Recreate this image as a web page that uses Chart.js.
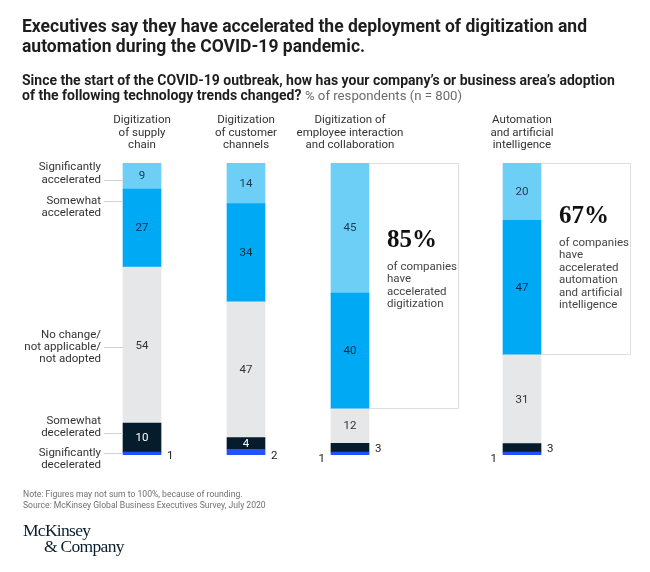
<!DOCTYPE html>
<html><head><meta charset="utf-8">
<script src="https://cdn.jsdelivr.net/npm/chart.js@4.4.1/dist/chart.umd.min.js"></script>
<style>
html,body{margin:0;padding:0;background:#fff;}
#wrap{position:relative;width:650px;height:572px;overflow:hidden;font-family:Roboto,'Liberation Sans',sans-serif;}
canvas{position:absolute;left:0;top:0;}
.title{position:absolute;left:22px;top:16px;font-size:17.5px;line-height:20px;font-weight:700;color:#1e1e1e;white-space:nowrap;}
.sub{position:absolute;left:22px;top:73px;font-size:14px;line-height:14.5px;color:#1e1e1e;white-space:nowrap;}
.sub b{font-weight:700;}
.sub span{color:#6b6b6b;font-weight:400;font-size:13.2px;}
.note{position:absolute;left:23px;top:489px;font-size:8.6px;line-height:10.5px;color:#707070;white-space:nowrap;}
.logo{position:absolute;left:23px;top:522px;font-family:'Liberation Serif',serif;font-size:17.5px;line-height:16px;color:#0a1e2e;letter-spacing:-0.7px;white-space:nowrap;}
.logo span{padding-left:21px;}
</style></head>
<body><div id="wrap">
<canvas id="c" width="650" height="572"></canvas>
<div class="title">Executives say they have accelerated the deployment of digitization and<br>automation during the COVID-19 pandemic.</div>
<div class="sub"><b>Since the start of the COVID-19 outbreak, how has your company’s or business area’s adoption<br>of the following technology trends changed?</b> <span>% of respondents (n = 800)</span></div>
<div class="note">Note: Figures may not sum to 100%, because of rounding.<br>Source: McKinsey Global Business Executives Survey, July 2020</div>
<div class="logo">McKinsey<br><span>&amp; Company</span></div>
</div>
<script>
// ---- data ----
const categories = ['Digitization of supply chain','Digitization of customer channels','Digitization of employee interaction and collaboration','Automation and artificial intelligence'];
const headerLines = [['Digitization','of supply','chain'],['Digitization','of customer','channels'],['Digitization of','employee interaction','and collaboration'],['Automation','and artificial','intelligence']];
const seriesNames = ['Significantly decelerated','Somewhat decelerated','No change/not applicable/not adopted','Somewhat accelerated','Significantly accelerated'];
const seriesLabelLines = [['Significantly','decelerated'],['Somewhat','decelerated'],['No change/','not applicable/','not adopted'],['Somewhat','accelerated'],['Significantly','accelerated']];
const sigDecel  = [1, 2, 1, 1];
const someDecel = [10, 4, 3, 3];
const noChange  = [54, 47, 12, 31];
const someAccel = [27, 34, 40, 47];
const sigAccel  = [9, 14, 45, 20];
const calloutValues = ['', '', '85%', '67%'];
const calloutLines = [[], [], ['of companies','have','accelerated','digitization'], ['of companies','have','accelerated','automation','and artificial','intelligence']];

// ---- layout / style ----
const colors = ['#2251FF','#051C2C','#E6E7E8','#00A9F4','#6ECFF6'];
const valueColors = ['#222','#ffffff','#333333','#0d2a45','#1d3a52'];
const slotPos = [0, 1, 2, 3.654];
const leaderFrac = [0.67, 0.655, 0.487, 0.85, 0.35];
const leaderLine = [0, 1, 1, 0, 1];
const calloutTopOffset = [0, 0, 78, 54];

const series = [sigDecel, someDecel, noChange, someAccel, sigAccel];
const totals = categories.map((_, i) => series.reduce((s, arr) => s + arr[i], 0));

const annot = {
  id: 'annot',
  afterDatasetsDraw(chart) {
    const ctx = chart.ctx;
    const xs = chart.scales.x;
    const metas = series.map((_, k) => chart.getDatasetMeta(k));
    ctx.save();
    ctx.textBaseline = 'middle';
    // column headers
    ctx.font = '11.5px Roboto'; ctx.fillStyle = '#333'; ctx.textAlign = 'center';
    headerLines.forEach((lines, i) => {
      const cx = xs.getPixelForValue(slotPos[i]);
      const baseY = chart.chartArea.top - 18;
      lines.forEach((t, j) => ctx.fillText(t, cx, baseY - (lines.length - 1 - j) * 12.2));
    });
    // values
    ctx.font = '11.5px Roboto';
    series.forEach((arr, k) => {
      metas[k].data.forEach((el, i) => {
        const v = arr[i];
        const half = el.width / 2;
        const top = Math.min(el.y, el.base), bot = Math.max(el.y, el.base);
        if (v >= 4) {
          ctx.fillStyle = valueColors[k]; ctx.textAlign = 'center';
          ctx.fillText(String(v), el.x, (top + bot) / 2 + 0.5);
        } else if (k === 0) {
          ctx.fillStyle = '#222';
          if (series[1][i] < 4) { ctx.textAlign = 'right'; ctx.fillText(String(v), el.x - half - 6, bot + 4); }
          else { ctx.textAlign = 'left'; ctx.fillText(String(v), el.x + half + 6, bot + 1); }
        } else {
          ctx.fillStyle = '#222'; ctx.textAlign = 'left';
          ctx.fillText(String(v), el.x + half + 6, (top + bot) / 2 + 1);
        }
      });
    });
    // left series labels with leaders
    ctx.font = '11.5px Roboto';
    series.forEach((arr, k) => {
      const el = metas[k].data[0];
      const half = el.width / 2;
      const ly = el.base - leaderFrac[k] * (el.base - el.y);
      ctx.strokeStyle = '#d2d2d2'; ctx.lineWidth = 1;
      ctx.beginPath(); ctx.moveTo(104, Math.round(ly) + 0.5); ctx.lineTo(el.x - half, Math.round(ly) + 0.5); ctx.stroke();
      ctx.fillStyle = '#333'; ctx.textAlign = 'right';
      seriesLabelLines[k].forEach((t, j) => {
        ctx.fillText(t, 101, ly + (j - leaderLine[k]) * 12.3);
      });
    });
    // callouts
    calloutValues.forEach((cv, i) => {
      if (!cv) return;
      const e4 = metas[4].data[i], e3 = metas[3].data[i];
      const left = e4.x + e4.width / 2, right = left + 90;
      const top = e4.y, bottom = e3.base;
      ctx.strokeStyle = '#dedede'; ctx.lineWidth = 1;
      ctx.beginPath();
      ctx.moveTo(left, Math.round(top) + 0.5); ctx.lineTo(Math.round(right) - 0.5, Math.round(top) + 0.5);
      ctx.lineTo(Math.round(right) - 0.5, Math.round(bottom) - 0.5); ctx.lineTo(left, Math.round(bottom) - 0.5);
      ctx.stroke();
      const ty = top + calloutTopOffset[i];
      ctx.fillStyle = '#111'; ctx.textAlign = 'left';
      ctx.font = 'bold 25px "Liberation Serif"';
      ctx.fillText(cv, left + 18, ty);
      ctx.font = '11.5px Roboto'; ctx.fillStyle = '#444';
      calloutLines[i].forEach((t, j) => ctx.fillText(t, left + 18, ty + 26 + j * 12.5));
    });
    ctx.restore();
  }
};

new Chart(document.getElementById('c'), {
  type: 'bar',
  data: {
    datasets: series.map((arr, k) => ({
      label: seriesNames[k],
      data: arr.map((v, i) => ({ x: slotPos[i], y: v / totals[i] * 100 })),
      backgroundColor: colors[k],
      borderWidth: 0,
      barThickness: 38
    }))
  },
  options: {
    responsive: false,
    animation: false,
    layout: { padding: { left: 90, right: 50, top: 163, bottom: 117 } },
    plugins: { legend: { display: false }, tooltip: { enabled: false } },
    scales: {
      x: { type: 'linear', display: false, stacked: true, offset: false, min: -0.5, max: 4.404 },
      y: { display: false, stacked: true, min: 0, max: 100 }
    }
  },
  plugins: [annot]
});
</script>
</body></html>
